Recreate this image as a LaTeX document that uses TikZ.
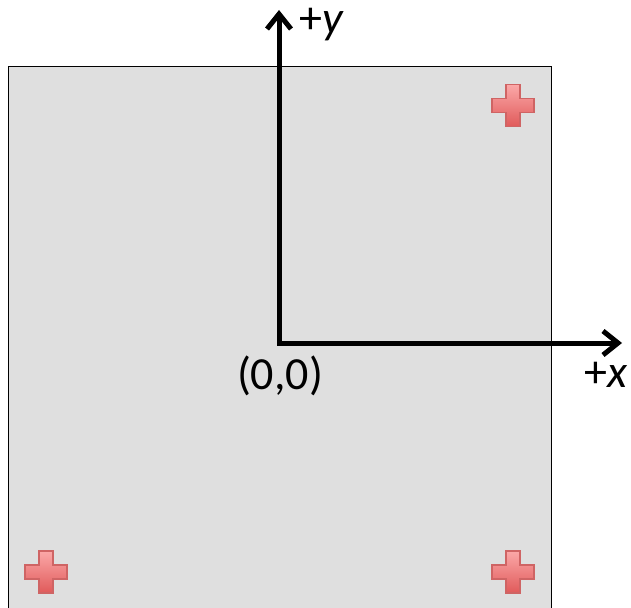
\documentclass[tikz,border=0pt]{standalone}
\usepackage{fontspec}
\setmainfont{Carlito}
\usetikzlibrary{arrows.meta}
\definecolor{panel}{HTML}{DFDFDF}
\definecolor{plustop}{HTML}{FBA8A8}
\definecolor{plusbot}{HTML}{E05A5A}
\definecolor{plusedge}{HTML}{CF6464}
\tikzset{
  axis/.style={line width=5pt, -{Straight Barb[length=15pt,width=24pt,line width=5pt]}},
  lbl/.style={font=\fontsize{46}{50}\selectfont, inner sep=0pt},
  plusmark/.pic={
    \path[top color=plustop, bottom color=plusbot, draw=plusedge, line width=1.5pt]
      (-7,-21) -- (7,-21) -- (7,-7) -- (21,-7) -- (21,7) -- (7,7) -- (7,21)
      -- (-7,21) -- (-7,7) -- (-21,7) -- (-21,-7) -- (-7,-7) -- cycle;
  }
}
\begin{document}
\begin{tikzpicture}[x=1pt,y=-1pt]
\useasboundingbox (0,0) rectangle (631,607);
\draw[fill=panel, line width=1pt] (8,67) rectangle (551,610);
\pic at (513,105.5) {plusmark};
\pic at (46,572) {plusmark};
\pic at (513,572) {plusmark};
\coordinate (O) at (279,343);
\coordinate (Y) at (279,10);
\coordinate (X) at (622,343);
\draw[axis] (277,343) -- (X);
\draw[axis] (279,345.5) -- (Y);
\node[lbl, anchor=base] (orig) at (280,389) {(0,0)};
\node[lbl, anchor=base west] (xl) at (584,387) {+\textit{x}};
\node[lbl, anchor=base west, text height=24pt] (yl) at (299,34) {+\textit{y}};
\end{tikzpicture}
\end{document}
